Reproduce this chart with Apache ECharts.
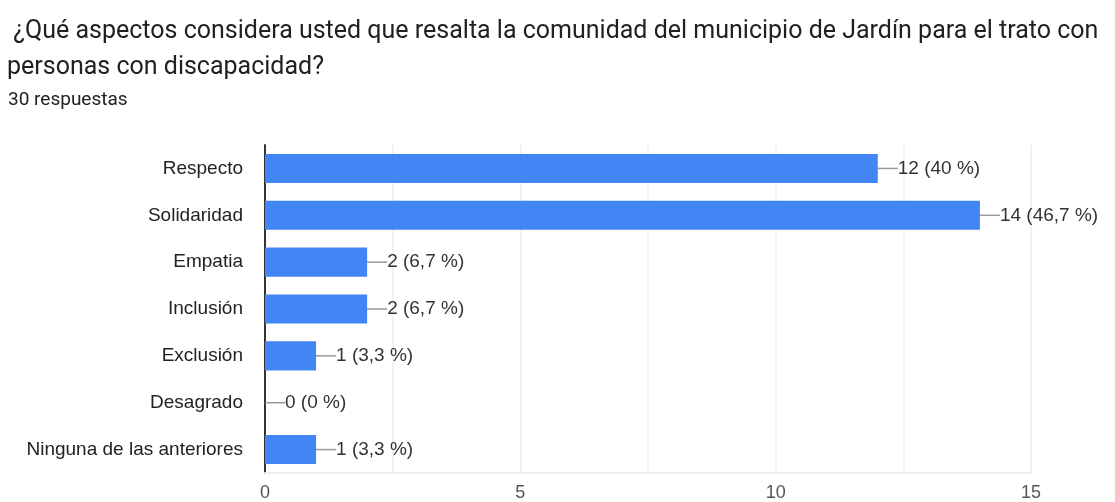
<!DOCTYPE html>
<html><head><meta charset="utf-8">
<script src="https://cdn.jsdelivr.net/npm/echarts@6/dist/echarts.min.js"></script>
<style>html,body{margin:0;padding:0;background:#fff}#c{width:1115px;height:502px}</style>
</head><body><div id="c"></div>
<script>
const titleLine1 = ' ¿Qué aspectos considera usted que resalta la comunidad del municipio de Jardín para el trato con';
const titleLine2 = 'personas con discapacidad?';
const subtitle = '30 respuestas';
const categories = ['Respecto','Solidaridad','Empatia','Inclusión','Exclusión','Desagrado','Ninguna de las anteriores'];
const counts = [12, 14, 2, 2, 1, 0, 1];
const percents = ['40','46,7','6,7','6,7','3,3','0','3,3'];
const xTicks = [0, 5, 10, 15];

const chart = echarts.init(document.getElementById('c'));
chart.setOption({
  animation: false,
  backgroundColor: '#fff',
  title: [{
    text: titleLine1 + '\n' + titleLine2,
    left: 7, top: 14, padding: 0,
    textStyle: {fontFamily: 'Roboto', fontSize: 25, fontWeight: 'normal', color: '#202124', lineHeight: 36}
  }, {
    text: subtitle,
    left: 8, top: 91, padding: 0,
    textStyle: {fontFamily: 'Roboto', fontSize: 19, fontWeight: 'normal', color: '#202124'}
  }],
  grid: {left: 265, right: 84, top: 145, bottom: 29, containLabel: false},
  xAxis: {
    type: 'value', min: 0, max: 15, interval: 2.5,
    axisLine: {show: true, lineStyle: {color: '#eeeeee', width: 2}},
    axisTick: {show: false},
    splitLine: {show: true, lineStyle: {color: '#eeeeee', width: 1.5}},
    axisLabel: {
      fontFamily: 'Liberation Sans', fontSize: 18, color: '#555', margin: 11,
      formatter: v => xTicks.indexOf(v) >= 0 ? String(v) : ''
    }
  },
  yAxis: {
    type: 'category', data: categories, inverse: true,
    axisLine: {show: true, lineStyle: {color: '#333', width: 2}},
    axisTick: {show: false},
    axisLabel: {fontFamily: 'Liberation Sans', fontSize: 19, color: '#222', margin: 22}
  },
  series: [{
    type: 'bar',
    data: counts,
    barCategoryGap: '38%',
    itemStyle: {color: '#4285F4'},
    label: {
      show: true, position: 'right', distance: 0,
      fontFamily: 'Liberation Sans', fontSize: 19, color: '#333',
      formatter: p => p.value + ' (' + percents[p.dataIndex] + ' %)'
    },
    labelLayout: {dx: 20},
    labelLine: {show: true, lineStyle: {color: '#999', width: 1.5}}
  }]
});
</script></body></html>
